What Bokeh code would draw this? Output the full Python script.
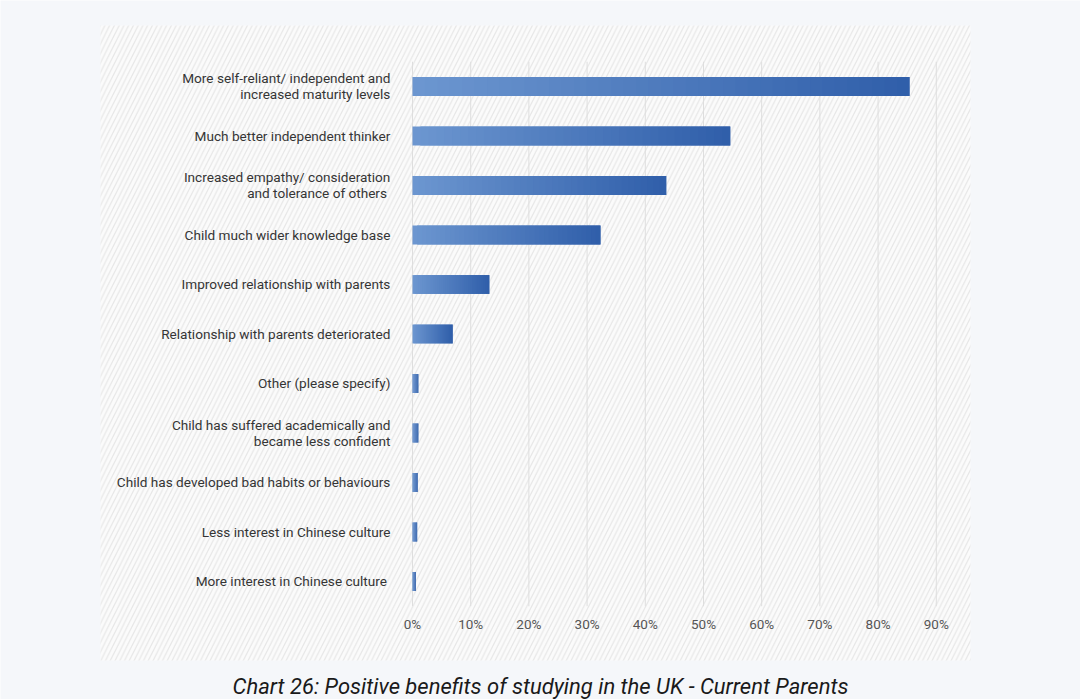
from bokeh.plotting import figure
from bokeh.models import Range1d, BoxAnnotation, ColumnDataSource
from bokeh.core.properties import value
from bokeh.embed import file_html
from bokeh.resources import INLINE

categories = [
    "More self-reliant/ independent and\nincreased maturity levels",
    "Much better independent thinker",
    "Increased empathy/ consideration\nand tolerance of others ",
    "Child much wider knowledge base",
    "Improved relationship with parents",
    "Relationship with parents deteriorated",
    "Other (please specify)",
    "Child has suffered academically and\nbecame less confident",
    "Child has developed bad habits or behaviours",
    "Less interest in Chinese culture",
    "More interest in  Chinese culture",
]
values = [85.4, 54.6, 43.6, 32.3, 13.2, 6.9, 1.0, 1.0, 0.9, 0.8, 0.6]
tick_values = [0, 10, 20, 30, 40, 50, 60, 70, 80, 90]
tick_labels = ["0%", "10%", "20%", "30%", "40%", "50%", "60%", "70%", "80%", "90%"]
caption = "Chart 26: Positive benefits of studying in the UK - Current Parents"

n = len(categories)
ypos = [n - 1 - i for i in range(n)]

# scale: 5.82 px per percent, 49.5 px per category row
p = figure(width=1080, height=699, output_backend="svg", toolbar_location=None,
           x_range=Range1d(-70.79, 114.78), y_range=Range1d(-2.384, 11.737),
           min_border_left=0, min_border_right=0, min_border_top=0, min_border_bottom=0)
p.xaxis.visible = False
p.yaxis.visible = False
p.xgrid.visible = False
p.ygrid.visible = False
p.outline_line_color = None
p.border_fill_color = "#f5f7fa"
p.background_fill_color = "#f5f7fa"

# hatched panel
bg = BoxAnnotation(left=-53.61, right=95.88, bottom=-1.596, top=11.232,
                   fill_color="#fbfbfb", fill_alpha=1.0, line_color=None,
                   hatch_pattern="/", hatch_color="#e6e6e6", hatch_scale=9.5,
                   hatch_weight=1.2, level="underlay")
p.add_layout(bg)

# grid lines
p.segment(x0=tick_values, x1=tick_values, y0=[-0.5] * len(tick_values),
          y1=[n - 0.5] * len(tick_values), line_color="#dedede", line_width=1)

# gradient bars
c0 = (108, 150, 208)
c1 = (48, 95, 170)
N = 40
lefts, rights, ys, cols = [], [], [], []
for v, y in zip(values, ypos):
    for k in range(N):
        t = k / (N - 1)
        col = "#%02x%02x%02x" % tuple(int(round(a + (b - a) * t)) for a, b in zip(c0, c1))
        lefts.append(v * k / N)
        rights.append(v * min(k + 2, N) / N)
        ys.append(y)
        cols.append(col)
src = ColumnDataSource(dict(left=lefts, right=rights, y=ys, color=cols))
p.hbar(y="y", left="left", right="right", height=0.38, fill_color="color",
       line_color=None, source=src)

# category labels
p.text(x=[-3.8] * n, y=ypos, text=categories, text_align="right", text_baseline="middle",
       text_font=value("Roboto"), text_font_size="13.6px", text_color="#353535",
       text_line_height=1.0)

# tick labels
p.text(x=tick_values, y=[-0.85] * len(tick_values), text=tick_labels, text_align="center",
       text_baseline="middle", text_font=value("Roboto"), text_font_size="13.5px",
       text_color="#555555")

# caption
p.text(x=[21.99], y=[-2.12], text=[caption], text_align="center", text_baseline="middle",
       text_font=value("Roboto"), text_font_size="22px", text_font_style="italic",
       text_color="#1a1a1a")

open("out.html", "w").write(file_html(p, INLINE))
